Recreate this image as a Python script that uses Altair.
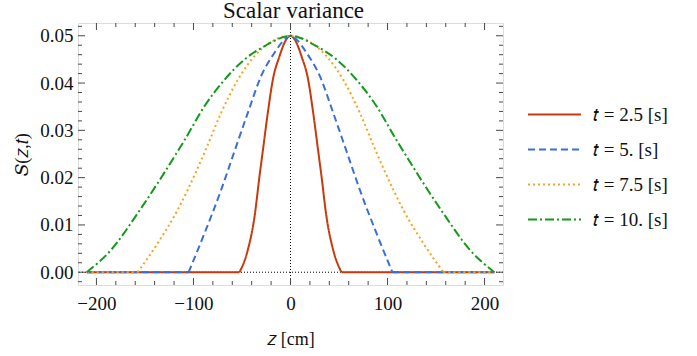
import altair as alt
import pandas as pd

# ---------------- data ----------------
chart_title = "Scalar variance"
x_title = "𝑧 [cm]"
y_title = "𝑆(𝑧,𝑡)"
series_names = ["𝑡 = 2.5 [s]", "𝑡 = 5. [s]", "𝑡 = 7.5 [s]", "𝑡 = 10. [s]"]
series_colors = ["#C8390B", "#3C6ED8", "#F9A21C", "#139A1A"]
series_dashes = [[1, 0], [7, 4], [2, 3], [9, 3, 2, 3]]
z_span = [-210, 210]

z_red = [-52.5, -44, -37.1, -32, -28.5, -23.4, -18.2, -11.3, -4.4, 0,
         4.4, 11.3, 18.2, 23.4, 28.5, 32, 37.1, 44, 52.5]
s_red = [0.0, 0.0047, 0.0117, 0.0202, 0.0257, 0.0337, 0.0407, 0.0457, 0.0492, 0.05,
         0.0492, 0.0457, 0.0407, 0.0337, 0.0257, 0.0202, 0.0117, 0.0047, 0.0]

z_blue = [-105, -88.7, -71.5, -57.7, -44, -30.2, -16.5, -6.2, 0,
          6.2, 16.5, 30.2, 44, 57.7, 71.5, 88.7, 105]
s_blue = [0.0, 0.0082, 0.0174, 0.0256, 0.0337, 0.0415, 0.0464, 0.0492, 0.05,
          0.0492, 0.0464, 0.0415, 0.0337, 0.0256, 0.0174, 0.0082, 0.0]

z_orange = [-157.5, -137, -116.5, -106, -87.8, -71.5, -54.3, -37.1, -19.9, -6, 0,
            6, 19.9, 37.1, 54.3, 71.5, 87.8, 106, 116.5, 137, 157.5]
s_orange = [0.0, 0.0061, 0.0131, 0.0174, 0.0257, 0.0337, 0.0407, 0.0457, 0.0487, 0.0499, 0.05,
            0.0499, 0.0487, 0.0457, 0.0407, 0.0337, 0.0257, 0.0174, 0.0131, 0.0061, 0.0]

z_green = [-210, -185, -157.7, -137, -116.5, -109, -88.7, -68, -47.4, -26.8, -6, 0,
           6, 26.8, 47.4, 68, 88.7, 109, 116.5, 137, 157.7, 185, 210]
s_green = [0.0, 0.0047, 0.0124, 0.0188, 0.0255, 0.028, 0.0351, 0.0407, 0.045, 0.0478, 0.0498, 0.05,
           0.0498, 0.0478, 0.045, 0.0407, 0.0351, 0.028, 0.0255, 0.0188, 0.0124, 0.0047, 0.0]

x_major = [-200, -100, 0, 100, 200]
x_minor = [-180, -160, -140, -120, -80, -60, -40, -20, 20, 40, 60, 80,
           120, 140, 160, 180]
y_major = [0.0, 0.01, 0.02, 0.03, 0.04, 0.05]
y_minor = [-0.002, 0.002, 0.004, 0.006, 0.008, 0.012, 0.014, 0.016, 0.018,
           0.022, 0.024, 0.026, 0.028, 0.032, 0.034, 0.036, 0.038,
           0.042, 0.044, 0.046, 0.048, 0.052]

x_domain = [-219, 219]
y_domain = [-0.0027, 0.0527]

# ---------------- table ----------------
rows = []
curves = [(z_red, s_red), (z_blue, s_blue), (z_orange, s_orange), (z_green, s_green)]
for name, (zs, ss) in zip(series_names, curves):
    for z, s in zip(zs, ss):
        rows.append({"series": name, "seg": "bump", "z": z, "S": s})
    if zs[0] > z_span[0]:
        rows.append({"series": name, "seg": "left", "z": z_span[0], "S": 0.0})
        rows.append({"series": name, "seg": "left", "z": zs[0], "S": 0.0})
        rows.append({"series": name, "seg": "right", "z": zs[-1], "S": 0.0})
        rows.append({"series": name, "seg": "right", "z": z_span[1], "S": 0.0})
df = pd.DataFrame(rows)

W, H = 425, 262
FONT = "Liberation Serif"
FRAME = "#4a4a4a"
TXT = "#111111"

xscale = alt.Scale(domain=x_domain, nice=False, zero=False)
yscale = alt.Scale(domain=y_domain, nice=False, zero=False)

xaxis = alt.Axis(values=x_major, ticks=False, domain=False, grid=False,
                 labelFont=FONT, labelFontSize=19, labelColor=TXT, labelPadding=9,
                 title=x_title, titleFont=FONT, titleFontSize=18,
                 titleFontWeight="normal", titleColor=TXT,
                 titleX=W / 2, titleY=59, titleBaseline="alphabetic",
                 labelFlush=False)
yaxis = alt.Axis(values=y_major, format=".2f", ticks=False, domain=False, grid=False,
                 labelFont=FONT, labelFontSize=19, labelColor=TXT, labelPadding=5,
                 title=y_title, titleFont=FONT, titleFontSize=18,
                 titleFontWeight="normal", titleColor=TXT,
                 titleX=-56, titleY=H / 2, titleAngle=270, titleAlign="center",
                 titleBaseline="middle", labelFlush=False)

X = alt.X("z:Q", scale=xscale, axis=xaxis)
Y = alt.Y("S:Q", scale=yscale, axis=yaxis)

legend = alt.Legend(orient="none", legendX=449, legendY=74, title=None,
                    symbolType="stroke", symbolSize=2809,
                    symbolStrokeWidth=2, labelFont=FONT,
                    labelFontSize=19, labelColor=TXT,
                    labelOffset=11, rowPadding=0, clipHeight=35)
color_enc = alt.Color("series:N",
                      scale=alt.Scale(domain=series_names, range=series_colors),
                      legend=legend)
dash_enc = alt.StrokeDash("series:N",
                          scale=alt.Scale(domain=series_names, range=series_dashes),
                          legend=legend)

layers = []

# dotted axes at z=0 and S=0
layers.append(alt.Chart(pd.DataFrame({"z": [0]})).mark_rule(
    color="black", strokeWidth=1, strokeDash=[1, 2]).encode(x=X))
layers.append(alt.Chart(pd.DataFrame({"S": [0.0]})).mark_rule(
    color="black", strokeWidth=1, strokeDash=[1, 2]).encode(y=Y))

for name in series_names:
    layers.append(alt.Chart(df[df["series"] == name]).mark_line(
        interpolate="monotone", strokeWidth=2).encode(
        x=X, y=Y, color=color_enc, strokeDash=dash_enc, detail="seg:N"))

# inward frame ticks
def xticks(vals, length):
    d = pd.DataFrame({"z": vals})
    bot = alt.Chart(d).mark_rule(color=FRAME, strokeWidth=1).encode(
        x=X, y=alt.value(H - length), y2=alt.value(H))
    top = alt.Chart(d).mark_rule(color=FRAME, strokeWidth=1).encode(
        x=X, y=alt.value(0), y2=alt.value(length))
    return [bot, top]

def yticks(vals, length):
    d = pd.DataFrame({"S": vals})
    left = alt.Chart(d).mark_rule(color=FRAME, strokeWidth=1).encode(
        y=Y, x=alt.value(0), x2=alt.value(length))
    right = alt.Chart(d).mark_rule(color=FRAME, strokeWidth=1).encode(
        y=Y, x=alt.value(W - length), x2=alt.value(W))
    return [left, right]

layers += xticks(x_major, 7) + xticks(x_minor, 4) + yticks(y_major, 7) + yticks(y_minor, 4)

chart = alt.layer(*layers).properties(
    width=W, height=H,
    title=alt.TitleParams(chart_title, font=FONT, fontSize=23, fontWeight="normal",
                          color=TXT, anchor="middle", offset=5, baseline="alphabetic",
                          dy=23, dx=3),
    autosize=alt.AutoSizeParams(type="none"),
    padding={"left": 78, "top": 23, "right": 194, "bottom": 71},
).configure_view(stroke=FRAME, strokeWidth=1).configure(background="white")

chart.save("out.html", embed_options={"renderer": "svg", "actions": False})
